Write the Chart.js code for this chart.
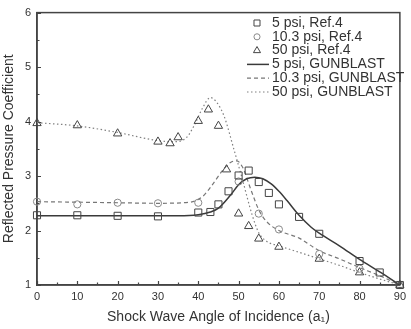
<!DOCTYPE html>
<html>
<head>
<meta charset="utf-8">
<script src="https://cdn.jsdelivr.net/npm/chart.js@4.4.0/dist/chart.umd.min.js"></script>
<style>
  html, body { margin: 0; padding: 0; background: #ffffff; }
  #wrap { width: 411px; height: 329px; }
</style>
</head>
<body>
<div id="wrap"><canvas id="chart"></canvas></div>
<script>
// 实验数据 (Ref.4)
const ref5Angle = [0, 10, 20, 30, 40, 43, 45, 47.5, 50, 52.5, 55, 57.5, 60, 65, 70, 80, 85, 90];
const ref5Coef = [2.28, 2.28, 2.27, 2.26, 2.33, 2.34, 2.48, 2.72, 3.01, 3.10, 2.89, 2.69, 2.48, 2.25, 1.94, 1.44, 1.23, 1.0];

const ref10Angle = [0, 10, 20, 30, 40, 50, 55, 60, 70, 80, 90];
const ref10Coef = [2.53, 2.48, 2.51, 2.50, 2.51, 2.90, 2.31, 2.02, 1.57, 1.30, 1.0];

const ref50Angle = [0, 10, 20, 30, 33, 35, 40, 42.5, 45, 47, 50, 52.5, 55, 60, 70, 80, 90];
const ref50Coef = [3.97, 3.93, 3.78, 3.63, 3.60, 3.71, 4.01, 4.22, 3.92, 3.12, 2.31, 2.08, 1.85, 1.70, 1.48, 1.23, 1.0];

// GUNBLAST 计算曲线
const gb5Angle = [0, 10, 20, 30, 35, 40, 43, 45, 48, 50, 52, 54, 56, 58, 60, 62, 65, 68, 70, 75, 80, 85, 90];
const gb5Coef = [2.27, 2.27, 2.27, 2.27, 2.27, 2.29, 2.34, 2.41, 2.65, 2.84, 2.95, 2.98, 2.95, 2.86, 2.72, 2.55, 2.28, 2.06, 1.95, 1.72, 1.47, 1.24, 1.0];

const gb10Angle = [0, 10, 20, 30, 38, 41, 43, 46, 48, 49.5, 51, 53, 55, 57, 60, 65, 70, 75, 80, 85, 90];
const gb10Coef = [2.53, 2.52, 2.51, 2.50, 2.52, 2.62, 2.79, 3.10, 3.25, 3.28, 3.16, 2.76, 2.38, 2.16, 2.00, 1.86, 1.63, 1.48, 1.32, 1.17, 1.0];

const gb50Angle = [0, 10, 20, 30, 34, 37, 39, 41, 43, 44.5, 46.4, 48.8, 50.9, 53.3, 55, 57, 60, 65, 70, 75, 80, 85, 90];
const gb50Coef = [3.98, 3.92, 3.80, 3.65, 3.63, 3.70, 3.93, 4.24, 4.44, 4.36, 4.10, 3.50, 2.95, 2.30, 1.96, 1.80, 1.72, 1.60, 1.48, 1.36, 1.23, 1.11, 1.0];

const seriesLabels = ['5 psi, Ref.4', '10.3 psi, Ref.4', '50 psi, Ref.4', '5 psi, GUNBLAST', '10.3 psi, GUNBLAST', '50 psi, GUNBLAST'];

const xRange = [0, 90];
const yRange = [1, 6];
const xTitle = 'Shock Wave Angle of Incidence (a\u2081)';
const yTitle = 'Reflected Pressure Coefficient';

const FONT = '"Liberation Sans", Arial, sans-serif';
const INK = '#333333';

function toPoints(xs, ys) {
    return xs.map((x, i) => ({ x: x, y: ys[i] }));
}

// 内侧刻度线和外框
const frameTicks = {
    id: 'frameTicks',
    beforeDatasetsDraw(chart) {
        const { ctx, chartArea: a, scales: { x, y } } = chart;
        ctx.save();
        ctx.strokeStyle = '#444444';
        ctx.lineWidth = 1.2;
        ctx.beginPath();
        for (let v = xRange[0]; v <= xRange[1]; v += 5) {
            const px = Math.round(x.getPixelForValue(v)) + 0.5;
            const len = v % 10 === 0 ? 4 : 2.5;
            ctx.moveTo(px, a.bottom);
            ctx.lineTo(px, a.bottom - len);
        }
        for (let v = yRange[0]; v <= yRange[1]; v += 0.5) {
            const py = Math.round(y.getPixelForValue(v)) + 0.5;
            const len = v % 1 === 0 ? 4 : 2.5;
            ctx.moveTo(a.left, py);
            ctx.lineTo(a.left + len, py);
        }
        ctx.stroke();
        ctx.lineWidth = 1.5;
        ctx.strokeRect(a.left, a.top, a.right - a.left, a.bottom - a.top);
        ctx.restore();
    }
};

function drawMarker(ctx, style, cx, cy, r) {
    ctx.beginPath();
    if (style === 'rect') {
        const s = Math.SQRT1_2 * r;
        ctx.rect(cx - s, cy - s, 2 * s, 2 * s);
    } else if (style === 'circle') {
        ctx.arc(cx, cy, r, 0, Math.PI * 2);
    } else {
        ctx.moveTo(cx, cy - r);
        ctx.lineTo(cx + 0.866 * r, cy + 0.5 * r);
        ctx.lineTo(cx - 0.866 * r, cy + 0.5 * r);
        ctx.closePath();
    }
    ctx.stroke();
}

// 图内图例
const insideLegend = {
    id: 'insideLegend',
    afterDraw(chart) {
        const ctx = chart.ctx;
        ctx.save();
        ctx.font = '14px ' + FONT;
        ctx.textBaseline = 'middle';
        ctx.textAlign = 'left';
        chart.data.datasets.forEach((ds, i) => {
            const rowY = 23 + i * 13.8;
            ctx.strokeStyle = ds.borderColor;
            if (ds.showLine) {
                ctx.lineWidth = ds.borderWidth;
                ctx.setLineDash(ds.borderDash || []);
                ctx.beginPath();
                ctx.moveTo(247, rowY);
                ctx.lineTo(269, rowY);
                ctx.stroke();
                ctx.setLineDash([]);
            } else {
                ctx.lineWidth = 1;
                drawMarker(ctx, ds.pointStyle, 257, rowY, ds.pointRadius * 0.85);
            }
            ctx.fillStyle = INK;
            ctx.fillText(ds.label, 272, rowY);
        });
        ctx.restore();
    }
};

const ctx = document.getElementById('chart').getContext('2d');
const chart = new Chart(ctx, {
    type: 'scatter',
    data: {
        datasets: [{
            label: seriesLabels[0],
            data: toPoints(ref5Angle, ref5Coef),
            pointStyle: 'rect',
            pointRadius: 5,
            borderColor: '#444444',
            backgroundColor: 'rgba(0,0,0,0)',
            borderWidth: 1,
            showLine: false,
            clip: false
        }, {
            label: seriesLabels[1],
            data: toPoints(ref10Angle, ref10Coef),
            pointStyle: 'circle',
            pointRadius: 3.6,
            borderColor: '#8a8a8a',
            backgroundColor: 'rgba(0,0,0,0)',
            borderWidth: 1,
            showLine: false,
            clip: false
        }, {
            label: seriesLabels[2],
            data: toPoints(ref50Angle, ref50Coef),
            pointStyle: 'triangle',
            pointRadius: 4.8,
            borderColor: '#444444',
            backgroundColor: 'rgba(0,0,0,0)',
            borderWidth: 1,
            showLine: false,
            clip: false
        }, {
            label: seriesLabels[3],
            data: toPoints(gb5Angle, gb5Coef),
            showLine: true,
            pointRadius: 0,
            borderColor: '#3a3a3a',
            borderWidth: 1.5,
            cubicInterpolationMode: 'monotone',
            fill: false
        }, {
            label: seriesLabels[4],
            data: toPoints(gb10Angle, gb10Coef),
            showLine: true,
            pointRadius: 0,
            borderColor: '#777777',
            borderWidth: 1.2,
            borderDash: [4, 3],
            cubicInterpolationMode: 'monotone',
            fill: false
        }, {
            label: seriesLabels[5],
            data: toPoints(gb50Angle, gb50Coef),
            showLine: true,
            pointRadius: 0,
            borderColor: '#808080',
            borderWidth: 1.2,
            borderDash: [1.5, 2.5],
            cubicInterpolationMode: 'monotone',
            fill: false
        }]
    },
    options: {
        responsive: true,
        maintainAspectRatio: false,
        animation: false,
        devicePixelRatio: 1,
        layout: {
            padding: { top: 11, right: 6, left: 0, bottom: 0 }
        },
        scales: {
            x: {
                type: 'linear',
                min: xRange[0],
                max: xRange[1],
                afterFit(s) { s.height = 44; },
                grid: { display: false, drawTicks: false },
                border: { display: true, color: '#444444', width: 1.5 },
                ticks: {
                    stepSize: 10,
                    padding: 5,
                    color: INK,
                    font: { family: FONT, size: 11 }
                },
                title: {
                    display: true,
                    text: xTitle,
                    color: INK,
                    font: { family: FONT, size: 14 },
                    padding: { top: 0, bottom: 3 }
                }
            },
            y: {
                type: 'linear',
                min: yRange[0],
                max: yRange[1],
                afterFit(s) { s.width = 37; },
                grid: { display: false, drawTicks: false },
                border: { display: true, color: '#444444', width: 1.5 },
                ticks: {
                    stepSize: 1,
                    padding: 6,
                    color: INK,
                    font: { family: FONT, size: 11 }
                },
                title: {
                    display: true,
                    text: yTitle,
                    color: INK,
                    font: { family: FONT, size: 14 },
                    padding: { top: 1, bottom: 0 }
                }
            }
        },
        plugins: {
            legend: { display: false },
            tooltip: { enabled: false }
        }
    },
    plugins: [frameTicks, insideLegend]
});
</script>
</body>
</html>
